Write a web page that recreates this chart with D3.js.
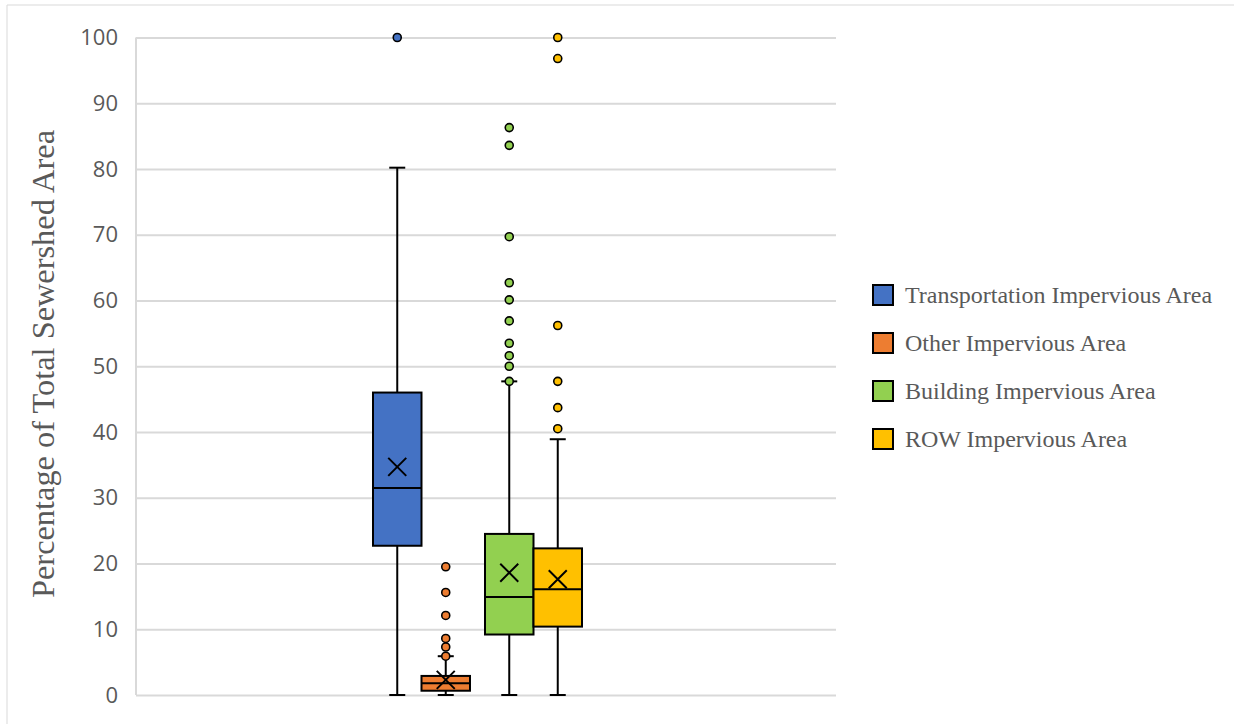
<!DOCTYPE html>
<html>
<head>
<meta charset="utf-8">
<script src="https://cdn.jsdelivr.net/npm/d3@7"></script>
<style>
  html, body { margin: 0; padding: 0; background: #fff; }
  svg { display: block; }
</style>
</head>
<body>
<svg id="chart" width="1234" height="724"></svg>
<script>
// ---------- data ----------
const series = ["Transportation Impervious Area", "Other Impervious Area", "Building Impervious Area", "ROW Impervious Area"];
const colors = ["#4472C4", "#ED7D31", "#92D050", "#FFC000"];
const whiskerLow  = [0, 0, 0, 0];
const q1          = [22.7, 0.65, 9.2, 10.4];
const median      = [31.5, 1.8, 14.9, 16.1];
const q3          = [46.0, 2.9, 24.5, 22.3];
const whiskerHigh = [80.2, 5.9, 47.7, 38.9];
const mean        = [34.7, 2.3, 18.6, 17.6];
const outliers = [
  [100],
  [19.5, 15.6, 12.1, 8.6, 7.3, 5.9],
  [86.3, 83.6, 69.7, 62.7, 60.1, 56.9, 53.5, 51.6, 50.0, 47.7],
  [100, 96.8, 56.2, 47.7, 43.7, 40.5]
];
const yTicks = [0, 10, 20, 30, 40, 50, 60, 70, 80, 90, 100];
const yTitle = "Percentage of Total Sewershed Area";

// ---------- layout ----------
const svg = d3.select("#chart");
const plot = { left: 136, right: 836, top: 37.5, bottom: 695 };
const y = d3.scaleLinear().domain([0, 100]).range([plot.bottom, plot.top]);

// series are drawn in two adjacent pairs
const pairs = [0, 1];
const xOuter = d3.scaleBand().domain(pairs).range([373, 582]).paddingInner(0.134);
const xInner = d3.scaleBand().domain([0, 1]).range([0, xOuter.bandwidth()]);
const boxX = i => xOuter(Math.floor(i / 2)) + xInner(i % 2);
const bw = xInner.bandwidth();

// outer frame lines
svg.append("line").attr("x1", 7).attr("x2", 1234).attr("y1", 5).attr("y2", 5)
  .attr("stroke", "#d9d9d9").attr("stroke-width", 1);
svg.append("line").attr("x1", 7).attr("x2", 7).attr("y1", 5).attr("y2", 724)
  .attr("stroke", "#d9d9d9").attr("stroke-width", 1);

// gridlines
const yAxis = d3.axisLeft(y).tickValues(yTicks).tickSize(-(plot.right - plot.left)).tickPadding(18).tickFormat(d3.format("d"));
const gAxis = svg.append("g").attr("transform", `translate(${plot.left},0)`).call(yAxis);
gAxis.select(".domain").remove();
gAxis.selectAll(".tick line").attr("stroke", "#d9d9d9").attr("stroke-width", 2);
gAxis.selectAll(".tick text")
  .attr("fill", "#595959")
  .style("font-family", "'Open Sans', sans-serif")
  .style("font-size", "22px");

// left vertical line
svg.append("line").attr("x1", plot.left).attr("x2", plot.left)
  .attr("y1", y(100)).attr("y2", y(0))
  .attr("stroke", "#d9d9d9").attr("stroke-width", 2);

// y title
svg.append("text")
  .attr("transform", `translate(54, ${(130 + 598) / 2}) rotate(-90)`)
  .attr("text-anchor", "middle")
  .attr("fill", "#595959")
  .style("font-family", "'Liberation Serif', 'Times New Roman', serif")
  .style("font-size", "32px")
  .attr("textLength", 468)
  .attr("lengthAdjust", "spacingAndGlyphs")
  .text(yTitle);

// ---------- boxes ----------
const capW = 16;
const markSize = 9;
series.forEach((s, i) => {
  const g = svg.append("g");
  const x0 = boxX(i), cx = x0 + bw / 2;
  // whiskers
  g.append("line").attr("x1", cx).attr("x2", cx).attr("y1", y(q3[i])).attr("y2", y(whiskerHigh[i]))
    .attr("stroke", "#000").attr("stroke-width", 2);
  g.append("line").attr("x1", cx).attr("x2", cx).attr("y1", y(q1[i])).attr("y2", y(whiskerLow[i]))
    .attr("stroke", "#000").attr("stroke-width", 2);
  [whiskerHigh[i], whiskerLow[i]].forEach(v => {
    g.append("line").attr("x1", cx - capW / 2).attr("x2", cx + capW / 2).attr("y1", y(v)).attr("y2", y(v))
      .attr("stroke", "#000").attr("stroke-width", 2);
  });
  // box
  g.append("rect").attr("x", x0).attr("y", y(q3[i])).attr("width", bw).attr("height", y(q1[i]) - y(q3[i]))
    .attr("fill", colors[i]).attr("stroke", "#000").attr("stroke-width", 2);
  // median
  g.append("line").attr("x1", x0).attr("x2", x0 + bw).attr("y1", y(median[i])).attr("y2", y(median[i]))
    .attr("stroke", "#000").attr("stroke-width", 2);
  // mean marker
  const my = y(mean[i]);
  g.append("path")
    .attr("d", `M${cx - markSize},${my - markSize}L${cx + markSize},${my + markSize}M${cx - markSize},${my + markSize}L${cx + markSize},${my - markSize}`)
    .attr("stroke", "#000").attr("stroke-width", 2).attr("fill", "none");
  // outliers
  g.selectAll("circle").data(outliers[i]).join("circle")
    .attr("cx", cx).attr("cy", d => y(d)).attr("r", 4)
    .attr("fill", colors[i]).attr("stroke", "#000").attr("stroke-width", 1.6);
});

// ---------- legend ----------
const legend = svg.append("g").attr("transform", "translate(872, 295)");
series.forEach((s, i) => {
  const row = legend.append("g").attr("transform", `translate(0, ${i * 48})`);
  row.append("rect").attr("x", 1).attr("y", -10).attr("width", 20).attr("height", 20)
    .attr("fill", colors[i]).attr("stroke", "#000").attr("stroke-width", 2);
  row.append("text").attr("x", 33).attr("y", 0).attr("dy", "0.35em")
    .attr("fill", "#595959")
    .style("font-family", "'Liberation Serif', 'Times New Roman', serif")
    .style("font-size", "24px")
    .text(s);
});
</script>
</body>
</html>
